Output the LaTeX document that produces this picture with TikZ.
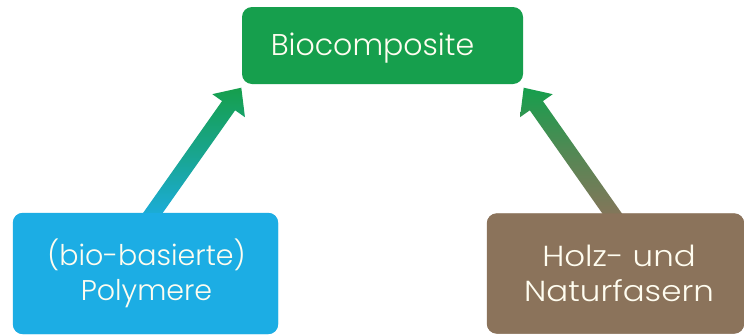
\documentclass[tikz,border=0pt]{standalone}
\usepackage{fontspec}
\setmainfont{Poppins}[UprightFont=* Light]
\usetikzlibrary{calc}
\definecolor{bgreen}{HTML}{169F4D}
\definecolor{bblue}{HTML}{1CADE4}
\definecolor{bbrown}{HTML}{8B735B}
\definecolor{btext}{HTML}{FFFDF0}
\tikzset{
  boxnode/.style={rounded corners=10pt, inner sep=0pt, draw=none},
  boxtext/.style={text=btext, align=center, inner sep=0pt, font=\fontsize{28.5}{35}\selectfont},
}
\begin{document}
\begin{tikzpicture}[x=1pt,y=-1pt]
\useasboundingbox (0,0) rectangle (744,335);
\fill[white] (0,0) rectangle (744,335);
% boxes
\node[boxnode, fill=bgreen, minimum width=281pt, minimum height=77pt] (bio) at (382.5,45.5) {};
\node[boxnode, fill=bblue, minimum width=265pt, minimum height=121pt] (poly) at (145.5,273.5) {};
\node[boxnode, fill=bbrown, minimum width=257pt, minimum height=120pt] (fas) at (615.5,273.5) {};
% arrow anchor coordinates
\coordinate (lt) at ($(poly.north)+(2.9,6.5)$);
\coordinate (lh) at ($(bio.south west)+(-0.5,3.5)$);
\coordinate (rt) at ($(fas.north)+(1.1,6.5)$);
\coordinate (rh) at ($(bio.south east)+(0.5,3.5)$);
\coordinate (lb) at ($(lh)!22pt!(lt)$);
\coordinate (rb) at ($(rh)!22pt!(rt)$);
% arrows
\shade[top color=bgreen, bottom color=bblue, middle color=bgreen!55!bblue]
  ($(lt)!8pt!90:(lh)$) -- ($(lb)!8pt!-90:(lt)$) -- ($(lb)!20pt!-90:(lt)$) -- (lh)
  -- ($(lb)!20pt!90:(lt)$) -- ($(lb)!8pt!90:(lt)$) -- ($(lt)!8pt!-90:(lh)$) -- cycle;
\shade[top color=bgreen, bottom color=bbrown, middle color=bgreen!45!bbrown]
  ($(rt)!8pt!90:(rh)$) -- ($(rb)!8pt!-90:(rt)$) -- ($(rb)!20pt!-90:(rt)$) -- (rh)
  -- ($(rb)!20pt!90:(rt)$) -- ($(rb)!8pt!90:(rt)$) -- ($(rt)!8pt!-90:(rh)$) -- cycle;
% boxes on top of arrow tails
\fill[bblue, rounded corners=10pt] (poly.south west) rectangle (poly.north east);
\fill[bbrown, rounded corners=10pt] (fas.south west) rectangle (fas.north east);
% texts
\node[boxtext, font=\fontsize{30}{36}\selectfont, anchor=base] (biotext) at (372.5,55) {Biocomposite};
\node[boxtext] (polytext) at (146.5,273.5) {(bio-basierte)\\Polymere};
\node[boxtext, font=\fontsize{29}{35}\selectfont\addfontfeature{FakeStretch=1.12}] (fastext) at (619,273.5) {Holz- und\\Naturfasern};
\end{tikzpicture}
\end{document}
